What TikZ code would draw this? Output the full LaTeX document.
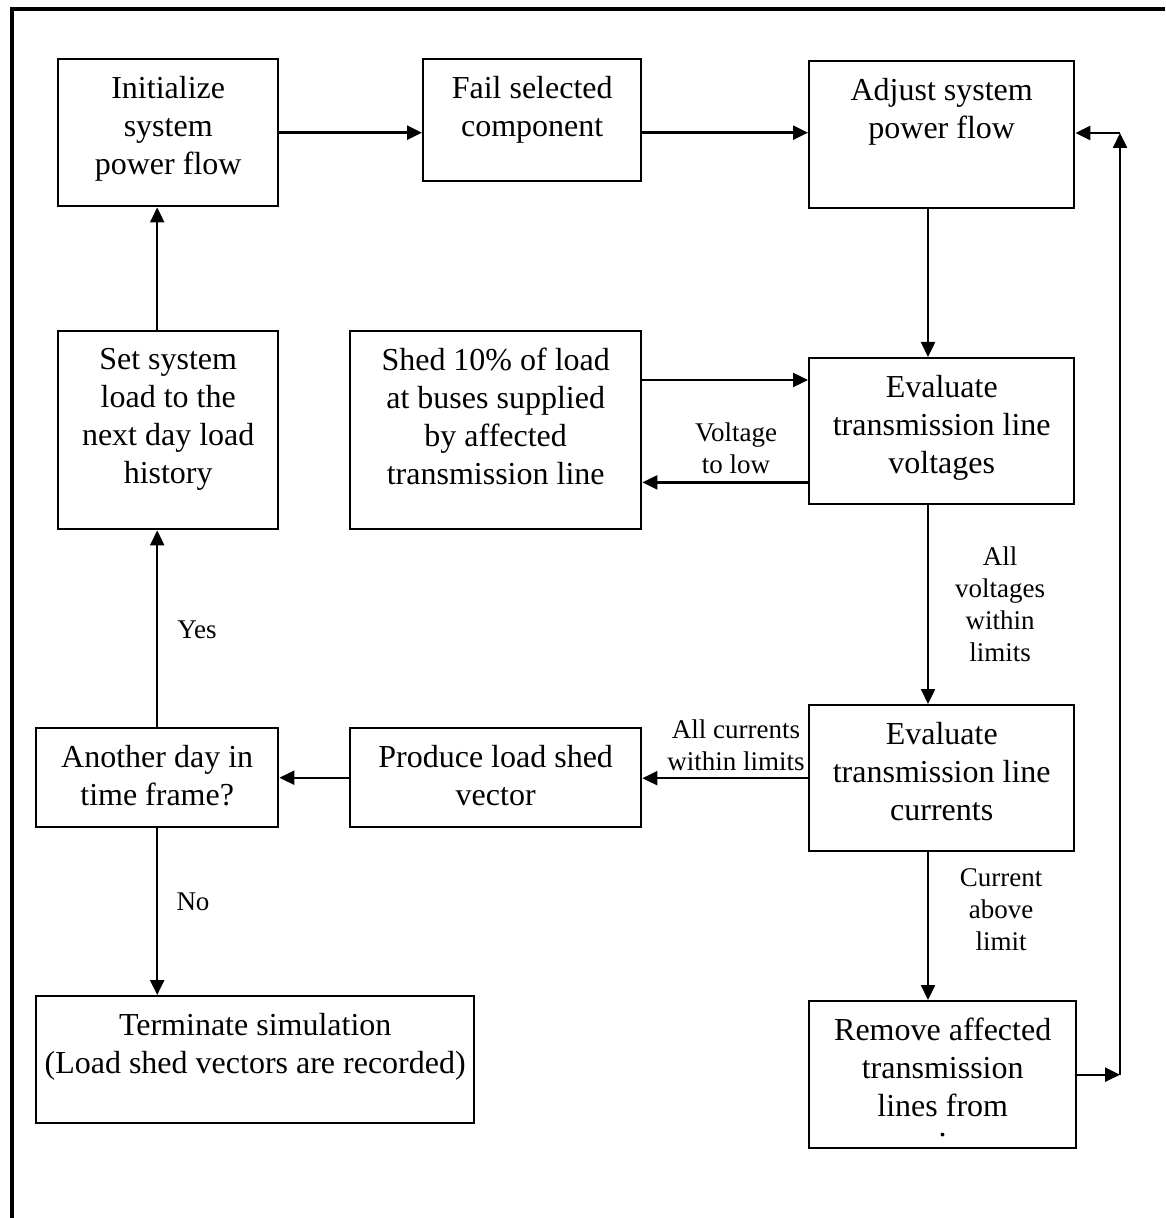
\documentclass[tikz,border=0pt]{standalone}
\usepackage{fontspec}
\setmainfont{Liberation Serif}
\usetikzlibrary{arrows.meta,calc}
\tikzstyle{block} = [draw, line width=1.2pt, inner sep=0pt, anchor=north west, font=\fontsize{16}{19}\selectfont]
\tikzstyle{lbl} = [inner sep=0pt, align=center, font=\fontsize{13.5}{16}\selectfont]
\tikzstyle{arr} = [line width=1.2pt, -{Triangle[length=7.5pt,width=7pt]}]
\newcommand{\blocktext}[3]{\parbox[c][#2][t]{#1}{\centering\vspace*{8.5pt}#3}}

\begin{document}
\begin{tikzpicture}[x=0.5pt, y=-0.5pt]
      \useasboundingbox (0,0) rectangle (1165,1218);
      \draw[line width=2pt] (12,1218) -- (12,9) -- (1165,9);
      % top row
      \node[block] (init) at (57,58) {\blocktext{110pt}{73.5pt}{Initialize\\system\\power flow}};
      \node[block] (fail) at (422,58) {\blocktext{109pt}{61pt}{Fail selected\\component}};
      \node[block] (adjust) at (808,60) {\blocktext{132.5pt}{73.5pt}{Adjust system\\power flow}};
      % second row
      \node[block] (setload) at (57,330) {\blocktext{110pt}{99pt}{Set system\\load to the\\next day load\\history}};
      \node[block] (shed) at (349,330) {\blocktext{145.5pt}{99pt}{Shed 10\% of load\\at buses supplied\\by affected\\transmission line}};
      \node[block] (evalv) at (808,357) {\blocktext{132.5pt}{73pt}{Evaluate\\transmission line\\voltages}};
      % third row
      \node[block] (another) at (35,727) {\blocktext{121pt}{49.5pt}{Another day in\\time frame?}};
      \node[block] (produce) at (349,727) {\blocktext{145.5pt}{49.5pt}{Produce load shed\\vector}};
      \node[block] (evalc) at (808,704) {\blocktext{132.5pt}{73pt}{Evaluate\\transmission line\\currents}};
      % bottom row
      \node[block] (term) at (35,995) {\blocktext{219pt}{63.5pt}{Terminate simulation\\(Load shed vectors are recorded)}};
      \node[block] (remove) at (808,1000) {\blocktext{133.5pt}{73.5pt}{Remove affected\\transmission\\lines from\\[-9pt].}};
      % labels
      \node[lbl] (vlow) at (736,448) {Voltage\\to low};
      \node[lbl] (vok) at (1000,604) {All\\voltages\\within\\limits};
      \node[lbl] (cok) at (736,745) {All currents\\within limits};
      \node[lbl] (cabove) at (1001,910) {Current\\above\\limit};
      \node[lbl] (yes) at (197,630) {Yes};
      \node[lbl] (no) at (193,902) {No};
      \coordinate (vx) at (928,0);
      \coordinate (loop) at (1120,133);
      \coordinate (shedin) at ($(shed.north east)+(0,50)$);
      \coordinate (vlowout) at ($(evalv.south west)+(0,-23)$);
      % arrows
      \draw[arr] (init.east) -- (init.east -| fail.west);
      \draw[arr] (fail.east |- init.east) -- (adjust.west |- init.east);
      \draw[arr] (adjust.south -| vx) -- (evalv.north -| vx);
      \draw[arr] (shedin) -- (shedin -| evalv.west);
      \draw[arr] (vlowout) -- (vlowout -| shed.east);
      \draw[arr] (evalv.south -| vx) -- (evalc.north -| vx);
      \draw[arr] (evalc.west) -- (evalc.west -| produce.east);
      \draw[arr] (produce.west) -- (another.east);
      \draw[arr] (another.north) -- (another.north |- setload.south);
      \draw[arr] (setload.north -| another.north) -- (init.south -| another.north);
      \draw[arr] (another.south) -- (another.south |- term.north);
      \draw[arr] (evalc.south -| vx) -- (remove.north -| vx);
      \draw[arr] (remove.east) -- (remove.east -| loop);
      \draw[arr] (remove.east -| loop) -- (loop);
      \draw[arr] (loop) -- (loop -| adjust.east);
    \end{tikzpicture}
\end{document}
